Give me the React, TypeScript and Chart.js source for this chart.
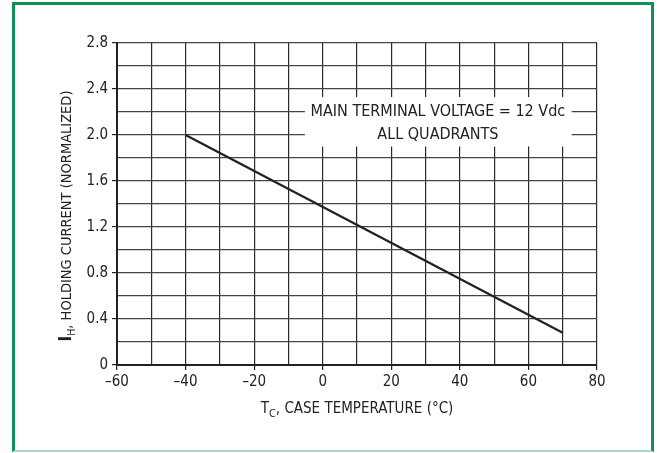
import React, { useEffect, useRef } from "react";
import { Chart, registerables } from "chart.js";

Chart.register(...registerables);

// ---- data ----
const caseTemps: number[] = [-40, 70];
const holdingCurrent: number[] = [2.0, 0.28];
const xTickLabelsEvery = 20;
const yTickLabelsEvery = 0.4;
const noteLines: string[] = ["MAIN TERMINAL VOLTAGE = 12 Vdc", "ALL QUADRANTS"];

const FONT = '"Liberation Sans Narrow", "DejaVu Sans Condensed", "Roboto", sans-serif';
const INK = "#222222";

const overlayPlugin = {
  id: "overlay",
  beforeDatasetsDraw(chart: any) {
    const { ctx, scales } = chart;
    const x = scales.x, y = scales.y;
    // white box behind the note
    const l = x.getPixelForValue(-5.2), r = x.getPixelForValue(72.6);
    const t = y.getPixelForValue(2.33), b = y.getPixelForValue(1.9);
    ctx.save();
    ctx.fillStyle = "#ffffff";
    ctx.fillRect(l, t, r - l, b - t);
    ctx.fillStyle = INK;
    ctx.font = `16px ${FONT}`;
    ctx.textAlign = "center";
    ctx.textBaseline = "middle";
    const cx = x.getPixelForValue(33.6);
    ctx.fillText(noteLines[0], cx, y.getPixelForValue(2.2));
    ctx.fillText(noteLines[1], cx, y.getPixelForValue(2.0));
    ctx.restore();
  },
  afterDraw(chart: any) {
    const { ctx, chartArea } = chart;
    ctx.save();
    ctx.fillStyle = INK;
    ctx.textBaseline = "alphabetic";
    ctx.textAlign = "left";
    // x title: T_C, CASE TEMPERATURE (°C)
    const big = `15px ${FONT}`, sub = `11px ${FONT}`;
    const parts = [
      { t: "T", f: big, dy: 0 },
      { t: "C", f: sub, dy: 4 },
      { t: ", CASE TEMPERATURE (\u00B0C)", f: big, dy: 0 },
    ];
    let w = 0;
    for (const p of parts) { ctx.font = p.f; w += ctx.measureText(p.t).width; }
    let px = (chartArea.left + chartArea.right) / 2 - w / 2;
    const py = 413;
    for (const p of parts) {
      ctx.font = p.f;
      ctx.fillText(p.t, px, py + p.dy);
      px += ctx.measureText(p.t).width;
    }
    // y title: I_H, HOLDING CURRENT (NORMALIZED)
    const ybig = `14.5px ${FONT}`;
    const yparts = [
      { t: "I", f: `bold 17px ${FONT}`, dy: 0 },
      { t: "H", f: `10.5px ${FONT}`, dy: 4 },
      { t: ", HOLDING CURRENT (NORMALIZED)", f: ybig, dy: 0 },
    ];
    w = 0;
    for (const p of yparts) { ctx.font = p.f; w += ctx.measureText(p.t).width; }
    ctx.translate(71, 216);
    ctx.rotate(-Math.PI / 2);
    px = -w / 2;
    for (const p of yparts) {
      ctx.font = p.f;
      ctx.fillText(p.t, px, p.dy);
      px += ctx.measureText(p.t).width;
    }
    ctx.restore();
  },
};

const isMultiple = (v: number, step: number) => {
  const r = v / step;
  return Math.abs(r - Math.round(r)) < 1e-6;
};

export default function App() {
  const ref = useRef<HTMLCanvasElement | null>(null);
  useEffect(() => {
    if (!ref.current) return;
    const chart = new Chart(ref.current, {
      type: "scatter",
      data: {
        datasets: [
          {
            data: caseTemps.map((t, i) => ({ x: t, y: holdingCurrent[i] })),
            showLine: true,
            borderColor: INK,
            borderWidth: 2.3,
            pointRadius: 0,
            fill: false,
          },
        ],
      },
      options: {
        animation: false,
        responsive: false,
        devicePixelRatio: 1,
        layout: { padding: { top: 43, right: 60, left: 0, bottom: 0 } },
        plugins: { legend: { display: false }, tooltip: { enabled: false } },
        scales: {
          x: {
            type: "linear",
            min: -60,
            max: 80,
            afterFit: (s: any) => { s.height = 88; },
            border: { display: true, color: INK, width: 2 },
            grid: {
              color: "#2a2a2a",
              lineWidth: 1.2,
              tickLength: 5,
              tickColor: (c: any) => (c.tick && isMultiple(c.tick.value, xTickLabelsEvery) ? INK : "rgba(0,0,0,0)"),
            },
            ticks: {
              stepSize: 10,
              autoSkip: false,
              maxRotation: 0,
              padding: 3,
              color: INK,
              font: { family: FONT, size: 15 },
              callback: (v: any) => {
                const n = Number(v);
                if (!isMultiple(n, xTickLabelsEvery)) return "";
                return n < 0 ? "\u2013" + Math.abs(n) : String(n);
              },
            },
          },
          y: {
            type: "linear",
            min: 0,
            max: 2.8,
            afterFit: (s: any) => { s.width = 117; },
            border: { display: true, color: INK, width: 2 },
            grid: {
              color: "#444444",
              lineWidth: 1.2,
              tickLength: 5,
              tickColor: (c: any) => (c.tick && isMultiple(c.tick.value, yTickLabelsEvery) ? INK : "rgba(0,0,0,0)"),
            },
            ticks: {
              stepSize: 0.2,
              autoSkip: false,
              padding: 4,
              color: INK,
              font: { family: FONT, size: 15 },
              callback: (v: any) => {
                const n = Number(v);
                if (!isMultiple(n, yTickLabelsEvery)) return "";
                return Math.abs(n) < 1e-9 ? "0" : n.toFixed(1);
              },
            },
          },
        },
      },
      plugins: [overlayPlugin],
    } as any);
    return () => chart.destroy();
  }, []);

  return (
    <div style={{ position: "fixed", left: 0, top: 0, width: 657, height: 453, background: "#ffffff" }}>
      <canvas ref={ref} width={657} height={453} style={{ position: "absolute", left: 0, top: 0 }} />
      <div
        style={{
          position: "absolute",
          left: 12,
          top: 2,
          width: 642,
          height: 450,
          boxSizing: "border-box",
          borderLeft: "3px solid #0f9155",
          borderTop: "3px solid #0f9155",
          borderRight: "3px solid #0f9155",
          borderBottom: "2px solid #a6dcc6",
          pointerEvents: "none",
        }}
      />
    </div>
  );
}
